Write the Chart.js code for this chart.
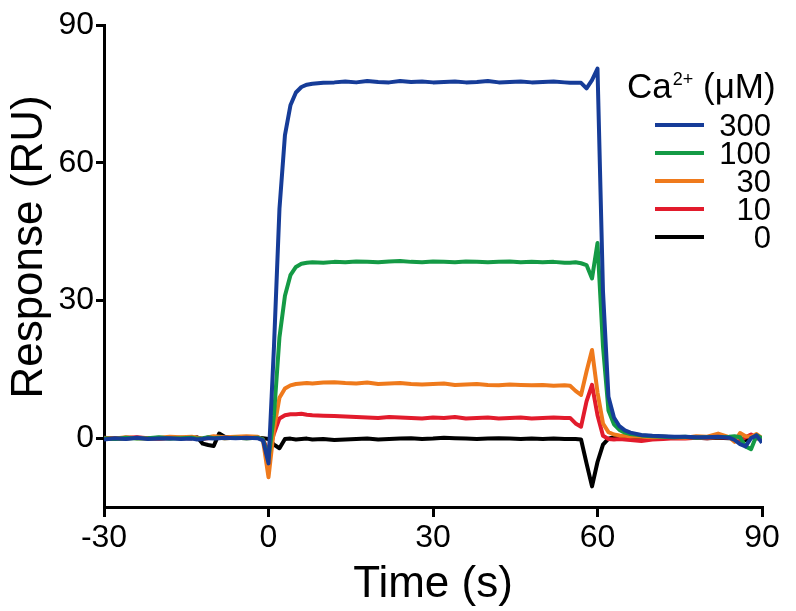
<!DOCTYPE html>
<html>
<head>
<meta charset="utf-8">
<script src="https://cdn.jsdelivr.net/npm/chart.js@4.4.1/dist/chart.umd.min.js"></script>
<style>
  html, body { margin: 0; padding: 0; background: #fff; }
</style>
</head>
<body>
<canvas id="chart" width="796" height="611"></canvas>
<script>
// time points (s)
const times = [-30, -28, -26, -24, -22, -20, -18, -16,
  -14, -13, -12, -11, -10, -9, -8, -6, -4, -2,
  -1, 0, 1, 2, 3, 4, 5, 6, 7, 8,
  10, 12, 14, 16, 18, 20, 22, 24, 26, 28, 30, 32, 34, 36, 38, 40, 42, 44, 46, 48, 50, 52, 54,
  55, 56, 57, 58, 59, 60, 61, 62, 63, 64, 65, 66,
  68, 70, 72, 74, 76, 78, 80, 82, 84,
  85, 86, 87, 88, 89, 90];

// Ca2+ concentrations (uM) and responses (RU)
const concentrations = ["300", "100", "30", "10", "0"];
const seriesColors = ["#163c98", "#149a45", "#ef7a1c", "#e21b2c", "#000000"];

const resp300 = [-0.3, 0, -0.2, 0.1, -0.2, -0.1, 0, -0.2,
  -0.1, -0.3, -0.2, 0, -0.1, 0, 0.1, 0, 0.1, 0,
  -0.5, -5.5, 20, 50, 66, 72.5, 75.3, 76.5, 77, 77.2,
  77.4, 77.5, 77.7, 77.5, 77.8, 77.6, 77.5, 77.8, 77.6, 77.7, 77.5, 77.6, 77.7, 77.5, 77.6, 77.8, 77.5, 77.6, 77.7, 77.5, 77.6, 77.7, 77.5,
  77.4, 77.4, 77.4, 76.2, 78, 80.5, 32, 9, 4.5, 2.6, 1.7, 1.2,
  0.7, 0.5, 0.4, 0.3, 0.3, 0.2, 0.2, 0.3, 0.1,
  -0.4, -1.3, -1.8, 0, 0.6, -1];
const resp100 = [0, -0.2, 0.1, -0.1, 0, 0.2, -0.1, 0,
  0.1, -0.1, 0, 0.2, 0, 0.1, 0, 0.1, 0, 0.1,
  -0.3, -4.5, 5, 22, 31, 35.5, 37.3, 38, 38.2, 38.3,
  38.2, 38.4, 38.3, 38.5, 38.4, 38.3, 38.5, 38.6, 38.4, 38.3, 38.5, 38.4, 38.3, 38.5, 38.4, 38.3, 38.4, 38.5, 38.3, 38.4, 38.3, 38.4, 38.2,
  38.2, 38.3, 38.1, 37.7, 34.8, 42.5, 20, 6, 3, 1.8, 1.2, 0.9,
  0.6, 0.4, 0.3, 0.2, 0.3, 0.1, 0.2, 0.2, 0.3,
  0.4, 0.2, -1.8, -2.4, 0.6, 0];
const resp30 = [0, -0.1, 0.2, 0, -0.1, 0.1, 0.3, 0.2,
  0.3, 0.1, -0.2, 0.2, 0.4, 0.3, 0.2, 0.3, 0.4, 0.3,
  -0.5, -8.5, 2, 8.8, 10.8, 11.5, 11.8, 11.9, 12.0, 11.9,
  12.1, 12.2, 12.0, 11.9, 12.1, 11.8, 11.9, 12.0, 11.8, 11.7, 11.8, 11.9, 11.6, 11.7, 11.8, 11.6, 11.5, 11.7, 11.6, 11.5, 11.6, 11.4, 11.5,
  11.4, 10.3, 9.4, 14.5, 19.2, 10, 3.2, 1.3, 0.8, 0.6, 0.5, 0.4,
  0.3, 0.2, 0.3, 0.2, 0.1, 0.4, 0.3, 1.0, 0.2,
  -0.8, 1.1, 0.4, 0.3, 0.9, 0];
const resp10 = [0.1, -0.1, 0.1, 0.2, 0, -0.1, 0.1, 0,
  0, 0.1, -0.1, 0, 0.2, 0.1, 0, 0.1, 0.2, 0.1,
  -0.3, -3, 1, 4.3, 5, 5.2, 5.2, 5.3, 5.1, 5.0,
  4.9, 4.8, 4.7, 4.6, 4.5, 4.4, 4.6, 4.5, 4.4, 4.3, 4.5, 4.4, 4.6, 4.3, 4.4, 4.5, 4.3, 4.4, 4.5, 4.3, 4.4, 4.5, 4.4,
  4.4, 3.2, 2.5, 8, 11.6, 5, 0.5, -0.2, -0.3, -0.2, -0.3, -0.4,
  -0.6, -0.3, -0.2, 0, -0.1, 0.1, 0, 0.2, 0.1,
  0, -0.5, 0.2, 0.8, 0, 0];
const resp0 = [-0.1, 0, -0.1, 0.1, 0, -0.1, 0, 0.1,
  0, 0.2, -1.2, -1.5, -1.7, 1, 0.3, 0.1, 0, 0.1,
  0, -0.2, -1.4, -2.2, -0.2, -0.1, -0.3, -0.2, -0.1, -0.3,
  -0.2, -0.4, -0.3, -0.2, -0.1, -0.3, -0.2, -0.1, 0, -0.2, -0.1, 0.1, 0, -0.1, -0.2, -0.1, 0, -0.1, -0.2, -0.1, -0.2, -0.1, -0.2,
  -0.2, -0.2, -0.3, -5.5, -10.5, -5.2, -1.4, -0.1, 0.2, 0.3, 0.2, 0.3,
  0.2, 0.3, 0.2, 0.1, 0.2, 0.1, 0, 0.1, 0,
  0.1, 0, -0.4, 0.4, 0, 0];
const responses = [resp300, resp100, resp30, resp10, resp0];

const xTicks = [-30, 0, 30, 60, 90];
const yTicks = [0, 30, 60, 90];

const FONT = "'Liberation Sans', Arial, Helvetica, sans-serif";

// y title + legend drawn by hand, placed like the original figure
const caLegend = {
  id: "caLegend",
  afterDraw(chart) {
    const ctx = chart.ctx;
    const a = chart.chartArea;
    ctx.save();
    ctx.fillStyle = "#000";

    // y axis title
    ctx.save();
    ctx.translate(30, 247);
    ctx.rotate(-Math.PI / 2);
    ctx.font = "44px " + FONT;
    ctx.textAlign = "center";
    ctx.textBaseline = "middle";
    ctx.fillText("Response (RU)", 0, 0);
    ctx.restore();

    ctx.textBaseline = "alphabetic";
    ctx.textAlign = "left";
    let x = a.right - 135;
    ctx.font = "35px " + FONT;
    ctx.fillText("Ca", x, a.top + 73);
    x += ctx.measureText("Ca").width + 1;
    ctx.font = "18px " + FONT;
    ctx.fillText("2+", x, a.top + 60);
    x += ctx.measureText("2+").width;
    ctx.font = "35px " + FONT;
    ctx.fillText(" (μM)", x, a.top + 73);

    chart.data.datasets.forEach((ds, i) => {
      const y = a.top + 100 + i * 28;
      ctx.strokeStyle = ds.borderColor;
      ctx.lineWidth = 4;
      ctx.beginPath();
      ctx.moveTo(a.right - 107, y);
      ctx.lineTo(a.right - 58, y);
      ctx.stroke();
      ctx.font = "31px " + FONT;
      ctx.textAlign = "right";
      ctx.fillText(ds.label, a.right + 9, y + 11);
    });
    ctx.restore();
  }
};

new Chart(document.getElementById("chart"), {
  type: "line",
  plugins: [caLegend],
  data: {
    datasets: concentrations.map((c, i) => ({
      label: c,
      data: times.map((t, j) => ({ x: t, y: responses[i][j] })),
      borderColor: seriesColors[i],
      borderWidth: 4,
      borderJoinStyle: "round",
      pointRadius: 0,
      tension: 0,
      fill: false,
    })),
  },
  options: {
    responsive: false,
    animation: false,
    layout: { padding: { top: 25, right: 34, left: 0, bottom: 0 } },
    plugins: {
      legend: { display: false },
      tooltip: { enabled: false },
    },
    scales: {
      x: {
        type: "linear",
        min: -30,
        max: 90,
        afterBuildTicks: (scale) => { scale.ticks = xTicks.map(v => ({ value: v })); },
        afterFit: (scale) => { scale.height = 104; },
        border: { display: true, color: "#000", width: 3 },
        grid: { display: true, drawOnChartArea: false, drawTicks: true, tickLength: 10, color: "#000", lineWidth: 3 },
        ticks: { color: "#000", font: { family: FONT, size: 32 }, padding: 2, maxRotation: 0 },
        title: { display: true, text: "Time (s)", color: "#000", font: { family: FONT, size: 44 }, padding: { top: 0, bottom: 0 } },
      },
      y: {
        min: -15,
        max: 90,
        afterBuildTicks: (scale) => { scale.ticks = yTicks.map(v => ({ value: v })); },
        afterFit: (scale) => { scale.width = 104; },
        border: { display: true, color: "#000", width: 3 },
        grid: { display: true, drawOnChartArea: false, drawTicks: true, tickLength: 8, color: "#000", lineWidth: 3 },
        ticks: { color: "#000", font: { family: FONT, size: 32 }, padding: 2 },
      },
    },
  },
});
</script>
</body>
</html>
